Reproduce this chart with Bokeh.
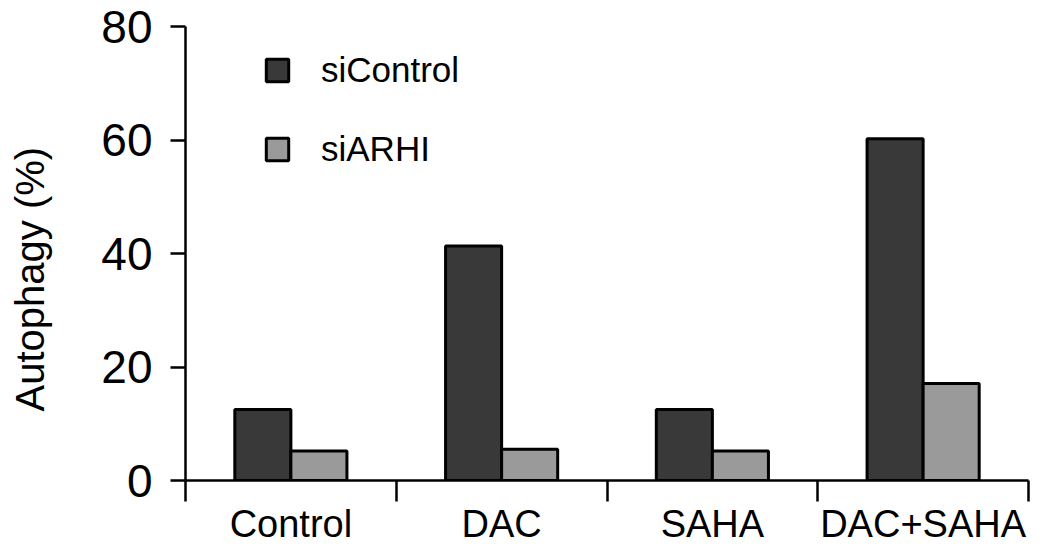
from bokeh.plotting import figure
from bokeh.models import (Range1d, FixedTicker, Legend, LegendItem, LinearAxis,
                          Title, ColumnDataSource, CustomJSTickFormatter)
from bokeh.embed import file_html
from bokeh.resources import INLINE

# ---- data ----
categories = ["Control", "DAC", "SAHA", "DAC+SAHA"]
series_names = ["siControl", "siARHI"]
si_control = [12.5, 41.3, 12.5, 60.2]
si_arhi = [5.2, 5.5, 5.2, 17.1]
y_ticks = [0, 20, 40, 60, 80]
y_label = "Autophagy (%)"

# ---- style ----
FONT = "Liberation Sans"
DARK = "#393939"
LIGHT = "#9a9a9a"
BAR_W = 0.266
AXIS_W = 2.5

n = len(categories)
centers = [i + 0.5 for i in range(n)]
src = ColumnDataSource(dict(
    cat=categories,
    x_ctrl=[c - BAR_W / 2 for c in centers],
    x_arhi=[c + BAR_W / 2 for c in centers],
    ctrl=si_control,
    arhi=si_arhi,
))

p = figure(width=1050, height=547, output_backend="svg", toolbar_location=None,
           x_range=Range1d(0, n), y_range=Range1d(y_ticks[0], y_ticks[-1]),
           min_border_left=185, min_border_right=22, min_border_top=26,
           min_border_bottom=0)
p.outline_line_color = None
p.xgrid.visible = False
p.ygrid.visible = False
p.background_fill_color = "white"

r1 = p.vbar(x="x_ctrl", top="ctrl", bottom=0, width=BAR_W, source=src,
            fill_color=DARK, line_color="black", line_width=3)
r2 = p.vbar(x="x_arhi", top="arhi", bottom=0, width=BAR_W, source=src,
            fill_color=LIGHT, line_color="black", line_width=3)

# x axis: labels at category centres, ticks at category boundaries
xa = p.xaxis[0]
xa.ticker = FixedTicker(ticks=centers, minor_ticks=list(range(n + 1)))
xa.formatter = CustomJSTickFormatter(args=dict(cats=categories),
                                     code="return cats[Math.floor(tick)]")
xa.major_tick_out = 0
xa.major_tick_in = 0
xa.minor_tick_out = 21
xa.minor_tick_in = 0
xa.minor_tick_line_width = AXIS_W
xa.minor_tick_line_color = "black"
xa.axis_line_width = AXIS_W
xa.axis_line_color = "black"
xa.major_label_standoff = 1
xa.major_label_text_font = FONT
xa.major_label_text_font_size = "38px"
xa.major_label_text_color = "black"

ya = p.yaxis[0]
ya.ticker = FixedTicker(ticks=y_ticks, minor_ticks=[])
ya.major_tick_out = 15
ya.major_tick_in = 0
ya.major_tick_line_width = AXIS_W
ya.major_tick_line_color = "black"
ya.minor_tick_out = 0
ya.minor_tick_in = 0
ya.axis_line_width = AXIS_W
ya.axis_line_color = "black"
ya.major_label_standoff = 18
ya.major_label_text_font = FONT
ya.major_label_text_font_size = "46px"
ya.major_label_text_color = "black"

# invisible spacer between the tick labels and the y title
spacer = LinearAxis(
    ticker=FixedTicker(ticks=[y_ticks[-1]], minor_ticks=[]),
    formatter=CustomJSTickFormatter(code="return ''"),
    axis_line_color=None, major_tick_out=47, major_tick_in=0,
    major_tick_line_color="white", major_tick_line_width=1,
    minor_tick_out=0, minor_tick_in=0, major_label_standoff=0,
    major_label_text_font_size="1px", major_label_text_color="white")
p.add_layout(spacer, "left")

# y title, shifted along the axis like in the reference
ytitle = Title(text=y_label, align="left", offset=69, standoff=0,
               vertical_align="bottom", text_font=FONT, text_font_size="40px",
               text_font_style="normal", text_color="black")
p.add_layout(ytitle, "left")

legend = Legend(items=[LegendItem(label=series_names[0], renderers=[r1]),
                       LegendItem(label=series_names[1], renderers=[r2])],
                location=(78, 311), glyph_width=28, glyph_height=28,
                label_standoff=30, spacing=39, padding=0, margin=0,
                label_text_font=FONT, label_text_font_size="35px",
                label_text_color="black", border_line_color=None,
                background_fill_alpha=0)
p.add_layout(legend)

open("out.html", "w").write(file_html(p, INLINE))
